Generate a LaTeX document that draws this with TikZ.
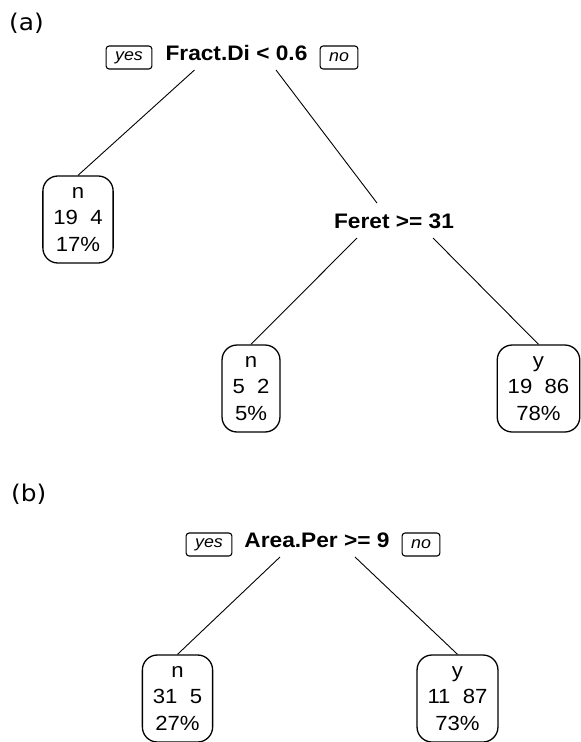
\documentclass[tikz,border=0pt]{standalone}
\usepackage{fontspec}
\newfontfamily\rfont[FakeStretch=1.08]{Liberation Sans}
\newfontfamily\panelfont[FakeStretch=1.08]{DejaVu Sans}

\tikzset{
    split/.style={font=\rfont\bfseries\fontsize{21}{24}\selectfont, anchor=base,
        inner sep=0pt, text height=15pt, text depth=0pt, outer ysep=10pt},
    tag/.style={draw, line width=1.1pt, rounded corners=3pt,
        font=\rfont\itshape\fontsize{16.5}{19}\selectfont,
        inner xsep=9pt, inner ysep=0pt, minimum height=23pt},
    leaf/.style={draw, line width=1.3pt, rounded corners=15pt, align=center,
        font=\rfont\fontsize{20.5}{26.5}\selectfont,
        inner xsep=10.5pt, inner ysep=0pt, minimum height=87pt},
    branch/.style={line width=0.9pt},
    panel/.style={font=\panelfont\fontsize{23}{27}\selectfont, anchor=base west, inner sep=0pt}
}

\begin{document}
\begin{tikzpicture}[x=1pt, y=-1pt]
    \useasboundingbox (0,0) rectangle (581,742);

    % Panel labels
    \node[panel] (pa) at (9,30) {(a)};
    \node[panel] (pb) at (11,501) {(b)};

    % Tree (a): splits
    \node[split] (fract) at (236.5,60) {Fract.Di < 0.6};
    \node[split] (feret) at (394,228) {Feret >= 31};

    % -- yes / no tags
    \node[tag] (yesa) at (129,57.5) {yes};
    \node[tag] (noa) at (339,57.5) {no};

    % Tree (a): leaves
    \node[leaf] (leafa1) at (78,219.5) {n\\19~~4\\17\%};
    \node[leaf] (leafa2) at (251,388.5) {n\\5~~2\\5\%};
    \node[leaf] (leafa3) at (538.5,388.5) {y\\19~~86\\78\%};

    % Tree (a): branches
    \draw[branch] ([xshift=-42pt]fract.south) -- (leafa1.north);
    \draw[branch] ([xshift=39.5pt]fract.south) -- ([xshift=-17pt]feret.north);
    \draw[branch] ([xshift=-37pt]feret.south) -- (leafa2.north);
    \draw[branch] ([xshift=39pt]feret.south) -- (leafa3.north);

    % Tree (b): split
    \node[split] (area) at (317,547) {Area.Per >= 9};

    % -- yes / no tags
    \node[tag] (yesb) at (209,544.5) {yes};
    \node[tag] (nob) at (421,544.5) {no};

    % Tree (b): leaves
    \node[leaf] (leafb1) at (177.5,698.5) {n\\31~~5\\27\%};
    \node[leaf] (leafb2) at (457.5,698.5) {y\\11~~87\\73\%};

    % Tree (b): branches
    \draw[branch] ([xshift=-37pt]area.south) -- (leafb1.north);
    \draw[branch] ([xshift=38pt]area.south) -- (leafb2.north);
\end{tikzpicture}
\end{document}
